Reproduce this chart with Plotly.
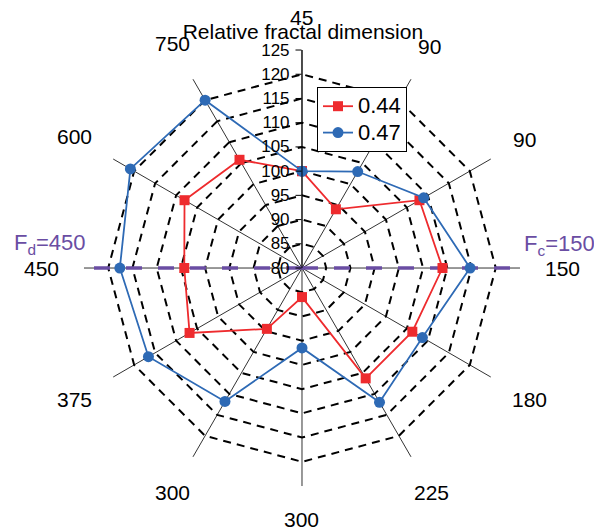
import math
import plotly.graph_objects as go

# categories (clockwise from top); duplicates made unique with a zero-width space
categories = ["45", "90", "90", "150", "180", "225", "300", "300", "375", "450", "600", "750"]
series_044 = [100, 94, 108, 109, 106.3, 106.3, 86, 94.5, 106.8, 104.3, 108, 105.8]
series_047 = [100, 103, 109, 114.7, 108.7, 112, 96.5, 111.8, 116.6, 117.6, 120.9, 120]
radial_ticks = [80, 85, 90, 95, 100, 105, 110, 115, 120, 125]
fline_r = [80, 125, None, 80, 125]
fline_cat = ["45", "450", None, "45", "150"]

keys = []
for c in categories:
    k = c
    while k in keys:
        k += "\u200b"
    keys.append(k)

FONT = "Liberation Sans, Arial, sans-serif"
RED = "#EE2B2E"
BLUE = "#2E6AB5"
PURPLE = "#6A4DA3"

W, H = 594, 531
dom_x = [0.1414, 0.8754]
dom_y = [0.0847, 0.9058]

fig = go.Figure()

fig.add_trace(go.Scatterpolar(
    r=fline_r, theta=fline_cat, mode="lines", connectgaps=False,
    line=dict(color=PURPLE, width=3.3, dash="16px,16px"),
    showlegend=False, hoverinfo="skip", cliponaxis=False))

fig.add_trace(go.Scatterpolar(
    r=series_044 + series_044[:1], theta=keys + keys[:1], mode="lines+markers",
    name="<span style='font-size:22px'>0.44</span>", line=dict(color=RED, width=1.8),
    marker=dict(symbol="square", size=10, color=RED)))

fig.add_trace(go.Scatterpolar(
    r=series_047 + series_047[:1], theta=keys + keys[:1], mode="lines+markers",
    name="<span style='font-size:22px'>0.47</span>", line=dict(color=BLUE, width=1.8),
    marker=dict(symbol="circle", size=11, color=BLUE)))

# category labels placed around the polygon (paper coords from polar domain)
cx = (dom_x[0] + dom_x[1]) / 2 * W
cy = (dom_y[0] + dom_y[1]) / 2 * H
R = (dom_x[1] - dom_x[0]) / 2 * W
LAB_FS = 21
annotations = []
n = len(categories)
for i, c in enumerate(categories):
    a = math.radians(i * 360 / n)
    hw = len(c) * 0.556 * LAB_FS / 2
    hh = 8
    off = 25 + hw * abs(math.sin(a)) + hh * abs(math.cos(a))
    px = cx + (R + off) * math.sin(a)
    py = cy + (R + off) * math.cos(a)
    annotations.append(dict(text=c, x=px / W, y=py / H, xref="paper", yref="paper",
                            xanchor="center", yanchor="middle", showarrow=False,
                            font=dict(family=FONT, size=LAB_FS, color="black")))

annotations += [
    dict(text="F<sub>d</sub>=450", x=50 / W, y=1 - 244 / H, xref="paper", yref="paper",
         xanchor="center", yanchor="middle",
         showarrow=False, font=dict(family=FONT, size=22, color=PURPLE)),
    dict(text="F<sub>c</sub>=150", x=559 / W, y=1 - 245 / H, xref="paper", yref="paper",
         xanchor="center", yanchor="middle",
         showarrow=False, font=dict(family=FONT, size=22, color=PURPLE)),
]

fig.update_layout(
    width=W, height=H,
    margin=dict(l=0, r=0, t=0, b=0),
    paper_bgcolor="white",
    font=dict(family=FONT, color="black"),
    polar=dict(
        domain=dict(x=dom_x, y=dom_y),
        bgcolor="white",
        gridshape="linear",
        radialaxis=dict(
            range=[80, 125], tickmode="array", tickvals=radial_ticks,
            angle=90, tickangle=90, side="counterclockwise",
            showline=True, linecolor="black", linewidth=1,
            ticks="outside", ticklen=6, tickcolor="black",
            tickfont=dict(family=FONT, size=17, color="black"),
            showgrid=True, gridcolor="black", griddash="8px,6px", gridwidth=1.5,
        ),
        angularaxis=dict(
            type="category", categoryorder="array", categoryarray=keys,
            rotation=90, direction="clockwise",
            showticklabels=False, ticks="",
            showline=False, showgrid=True, gridcolor="#333333", gridwidth=1,
        ),
    ),
    title=dict(text="Relative fractal dimension", x=0.51, xanchor="center",
               y=1 - 32 / H, yanchor="middle", font=dict(family=FONT, size=21, color="black")),
    legend=dict(x=317 / W, y=1 - 87 / H, xanchor="left", yanchor="top",
                bordercolor="black", borderwidth=1, bgcolor="white",
                font=dict(family=FONT, size=18, color="black")),
    annotations=annotations,
)

fig.write_html("out.html")
